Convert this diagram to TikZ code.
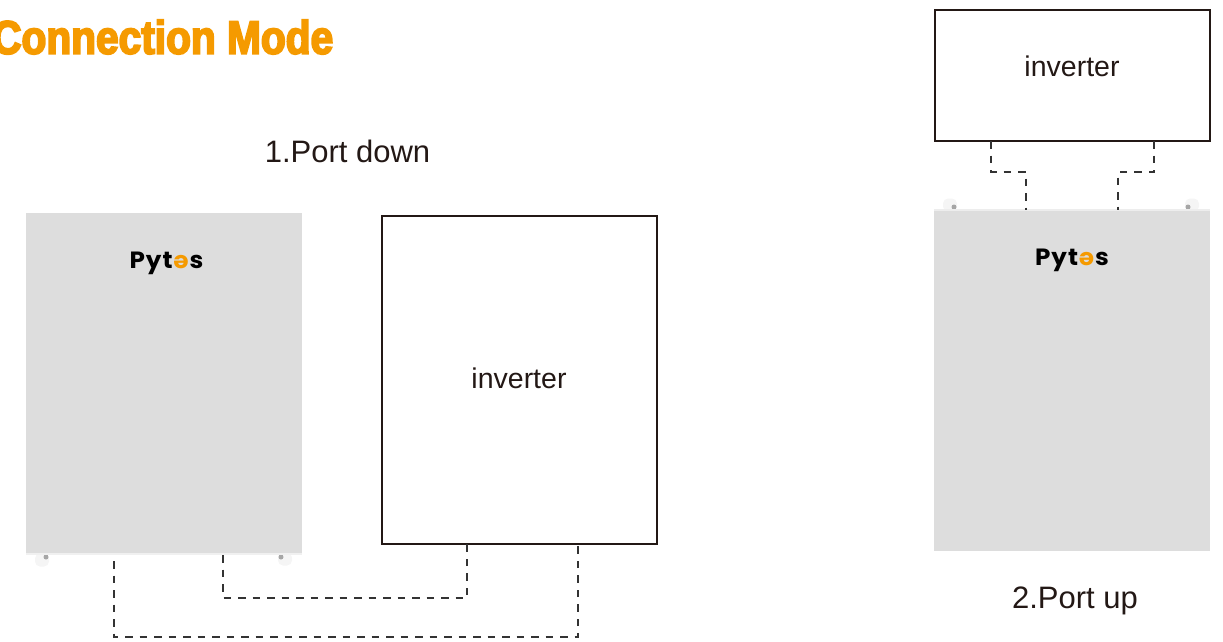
\documentclass[tikz,border=0pt]{standalone}
\usepackage{fontspec}
\setmainfont{Liberation Sans}
\newfontfamily\titlefont[FakeStretch=0.865,FakeBold=4]{Liberation Sans Bold}
\newfontfamily\logofont[FakeStretch=1.05]{Poppins Bold}
\definecolor{pyorange}{HTML}{F59A00}
\definecolor{pygrey}{HTML}{DDDDDD}
\definecolor{pytext}{HTML}{231815}
\newcommand{\pytes}{{\logofont\fontsize{23.5}{24}\selectfont P\kern1pt y\kern1pt t\kern1pt\textcolor{pyorange}{\rotatebox[origin=c]{180}{e}}\kern1pt s}}
\tikzset{
    label/.style={text=pytext, inner sep=0pt, font=\fontsize{31}{33}\selectfont},
    boxlabel/.style={text=pytext, inner sep=0pt, font=\fontsize{28.5}{30}\selectfont},
    inverterbox/.style={draw=pytext, line width=2.8pt, fill=white, inner sep=0pt, outer sep=0pt, anchor=north west},
    batterybox/.style={fill=pygrey, inner sep=0pt, outer sep=0pt, anchor=north west},
    latch/.style={fill=black!4, rounded corners=5pt, inner sep=0pt, minimum width=14pt, minimum height=13pt},
    latchdot/.style={circle, fill=black!35, inner sep=0pt, minimum size=5pt},
    wire/.style={draw=black!80, line width=1.5pt, dash pattern=on 7.5pt off 7pt},
}
\begin{document}
\begin{tikzpicture}[x=1pt, y=-1pt]
    \useasboundingbox (0, 0) rectangle (1223, 641);
    % title
    \node [anchor=west, inner sep=0pt, text=pyorange, font=\titlefont\fontsize{47}{50}\selectfont] (title) at (-8, 37) {Connection Mode};
    % port down
    \node [label] (downlabel) at (347.5, 151) {1.Port down};
    \node [latch] (latch1) at (42, 560) {};
    \node [latch] (latch2) at (285, 559) {};
    \node [latchdot] (dot1) at (46, 557) {};
    \node [latchdot] (dot2) at (281, 557) {};
    \node [batterybox, minimum width=276pt, minimum height=340pt] (battery1) at (26, 213) {};
    \fill [black!6] (26, 553) rectangle (302, 555);
    \node (logo1) at (166.5, 263.5) {\pytes};
    \node [inverterbox, minimum width=275pt, minimum height=328pt] (inverter1) at (382, 216) {};
    \node [boxlabel] (inverter1text) at (519, 378) {inverter};
    \coordinate (a1) at (114, 561);
    \coordinate (a2) at (223, 555);
    \coordinate (a3) at (467, 544);
    \coordinate (a4) at (578, 544);
    \draw [wire] (a1) -- (114, 637) -- (578, 637) -- (a4);
    \draw [wire] (a2) -- (223, 598) -- (467, 598) -- (a3);
    % port up
    \node [latch] (latch3) at (950, 205) {};
    \node [latch] (latch4) at (1192, 205) {};
    \node [latchdot] (dot3) at (954, 207) {};
    \node [latchdot] (dot4) at (1188, 207) {};
    \node [batterybox, minimum width=276pt, minimum height=341pt] (battery2) at (934, 210) {};
    \fill [white!93!black] (934, 209) rectangle (1210, 211);
    \node (logo2) at (1072, 260.5) {\pytes};
    \node [inverterbox, minimum width=275pt, minimum height=131pt] (inverter2) at (935, 10) {};
    \node [boxlabel] (inverter2text) at (1072, 66) {inverter};
    \node [label] (uplabel) at (1075, 601) {2.Port up};
    \coordinate (b1) at (991, 141);
    \coordinate (b2) at (1026, 210);
    \coordinate (b3) at (1154, 141);
    \coordinate (b4) at (1118, 210);
    \draw [wire] (b1) -- (991, 172) -- (1026, 172) -- (b2);
    \draw [wire] (b3) -- (1154, 172) -- (1118, 172) -- (b4);
\end{tikzpicture}
\end{document}
